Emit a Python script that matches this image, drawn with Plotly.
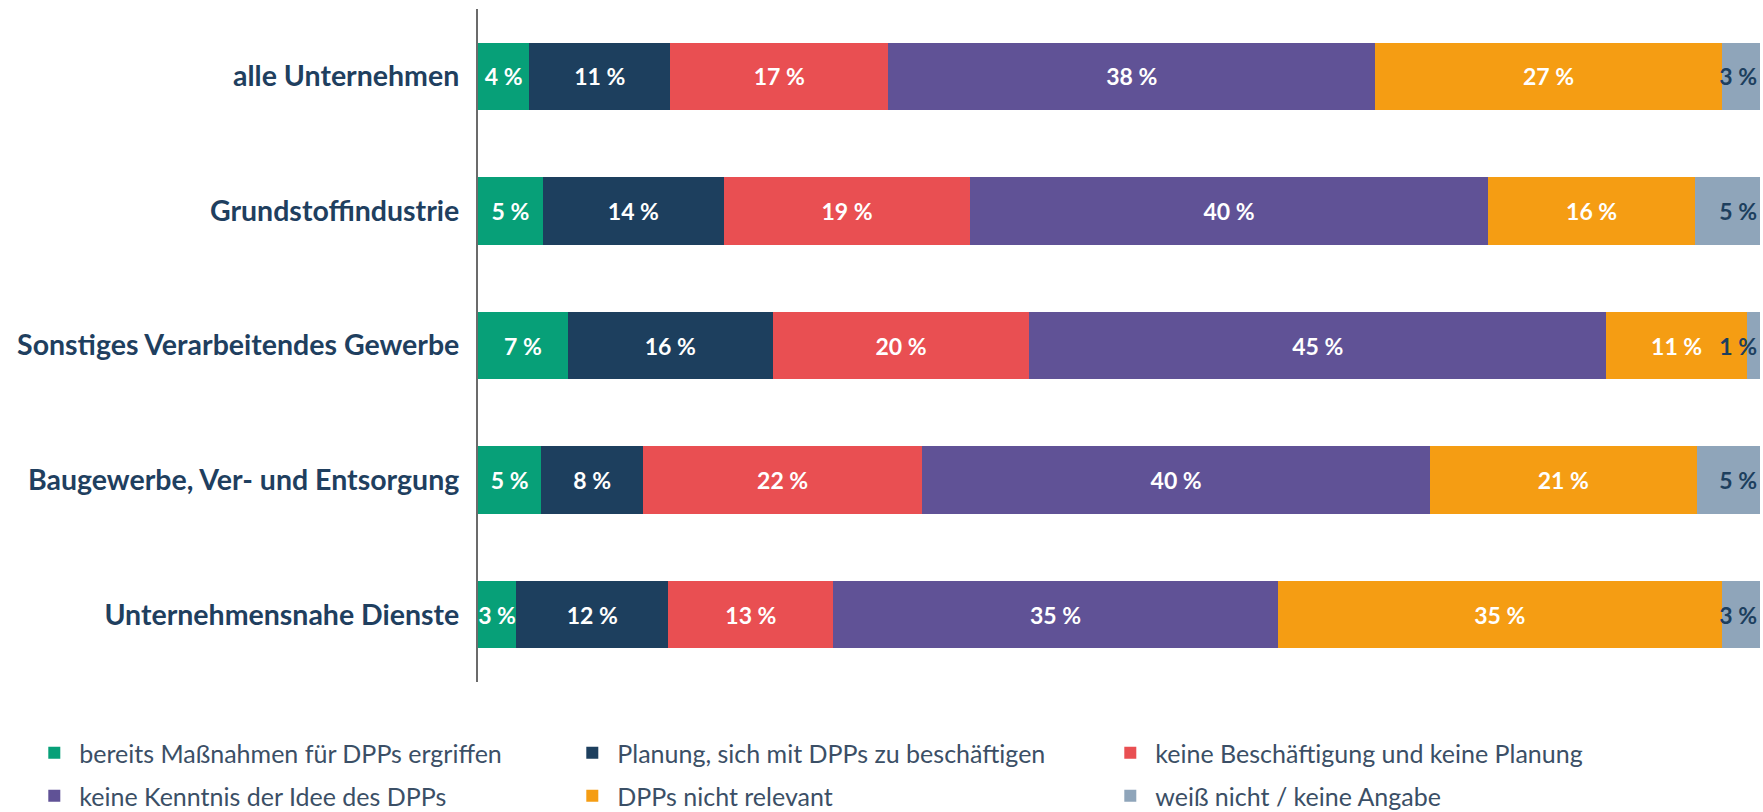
import plotly.graph_objects as go

categories = [
    "alle Unternehmen",
    "Grundstoffindustrie",
    "Sonstiges Verarbeitendes Gewerbe",
    "Baugewerbe, Ver- und Entsorgung",
    "Unternehmensnahe Dienste",
]

series_names = [
    "bereits Maßnahmen für DPPs ergriffen",
    "Planung, sich mit DPPs zu beschäftigen",
    "keine Beschäftigung und keine Planung",
    "keine Kenntnis der Idee des DPPs",
    "DPPs nicht relevant",
    "weiß nicht / keine Angabe",
]

bereits = [4, 5, 7, 5, 3]
planung = [11, 14, 16, 8, 12]
keine_beschaeftigung = [17, 19, 20, 22, 13]
keine_kenntnis = [38, 40, 45, 40, 35]
nicht_relevant = [27, 16, 11, 21, 35]
weiss_nicht = [3, 5, 1, 5, 3]

series_values = [bereits, planung, keine_beschaeftigung, keine_kenntnis, nicht_relevant, weiss_nicht]

colors = ["#07a078", "#1d3f5e", "#e94f52", "#605296", "#f59d13", "#8fa5ba"]
text_colors = ["#ffffff", "#ffffff", "#ffffff", "#ffffff", "#ffffff", "#1d3f5e"]

FONT = "Lato"

# row totals so every bar is shown as 100 %
totals = [sum(s[i] for s in series_values) for i in range(len(categories))]

fig = go.Figure()
for k, (name, vals) in enumerate(zip(series_names, series_values)):
    shares = [v / t * 100 for v, t in zip(vals, totals)]
    last = k == len(series_values) - 1
    fig.add_trace(go.Bar(
        y=categories,
        x=shares,
        name=name,
        orientation="h",
        marker=dict(color=colors[k], line=dict(width=0)),
        text=[f"{v} %" for v in vals],
        textposition="inside",
        insidetextanchor="end" if last else "middle",
        constraintext="none",
        textangle=0,
        cliponaxis=False,
        textfont=dict(family=FONT, size=23, color=text_colors[k], weight="bold"),
        legend="legend" if k < 3 else "legend2",
        hoverinfo="skip",
    ))

legend_common = dict(
    orientation="h",
    x=-0.35,
    xanchor="left",
    yanchor="middle",
    entrywidth=483,
    entrywidthmode="pixels",
    itemwidth=40,
    font=dict(family=FONT, size=25, color="#3b4f66"),
    bgcolor="rgba(0,0,0,0)",
    traceorder="normal",
)

fig.update_layout(
    width=1763,
    height=812,
    barmode="stack",
    bargap=0.5,
    plot_bgcolor="white",
    paper_bgcolor="white",
    margin=dict(l=478, r=3, t=9, b=130, autoexpand=False),
    showlegend=True,
    legend=dict(**legend_common, y=-0.1055),
    legend2=dict(**legend_common, y=-0.1694),
    xaxis=dict(range=[0, 100.0005], visible=False, fixedrange=True),
    yaxis=dict(
        autorange="reversed",
        showline=True,
        linecolor="#6b6b6b",
        linewidth=2,
        showgrid=False,
        ticks="",
        ticklabelstandoff=11,
        tickfont=dict(family=FONT, size=28.5, color="#1f3f5f", weight="bold"),
        fixedrange=True,
    ),
)

fig.write_html(
    "out.html",
    config={"displayModeBar": False},
    post_script="document.body.style.margin='0';",
)
